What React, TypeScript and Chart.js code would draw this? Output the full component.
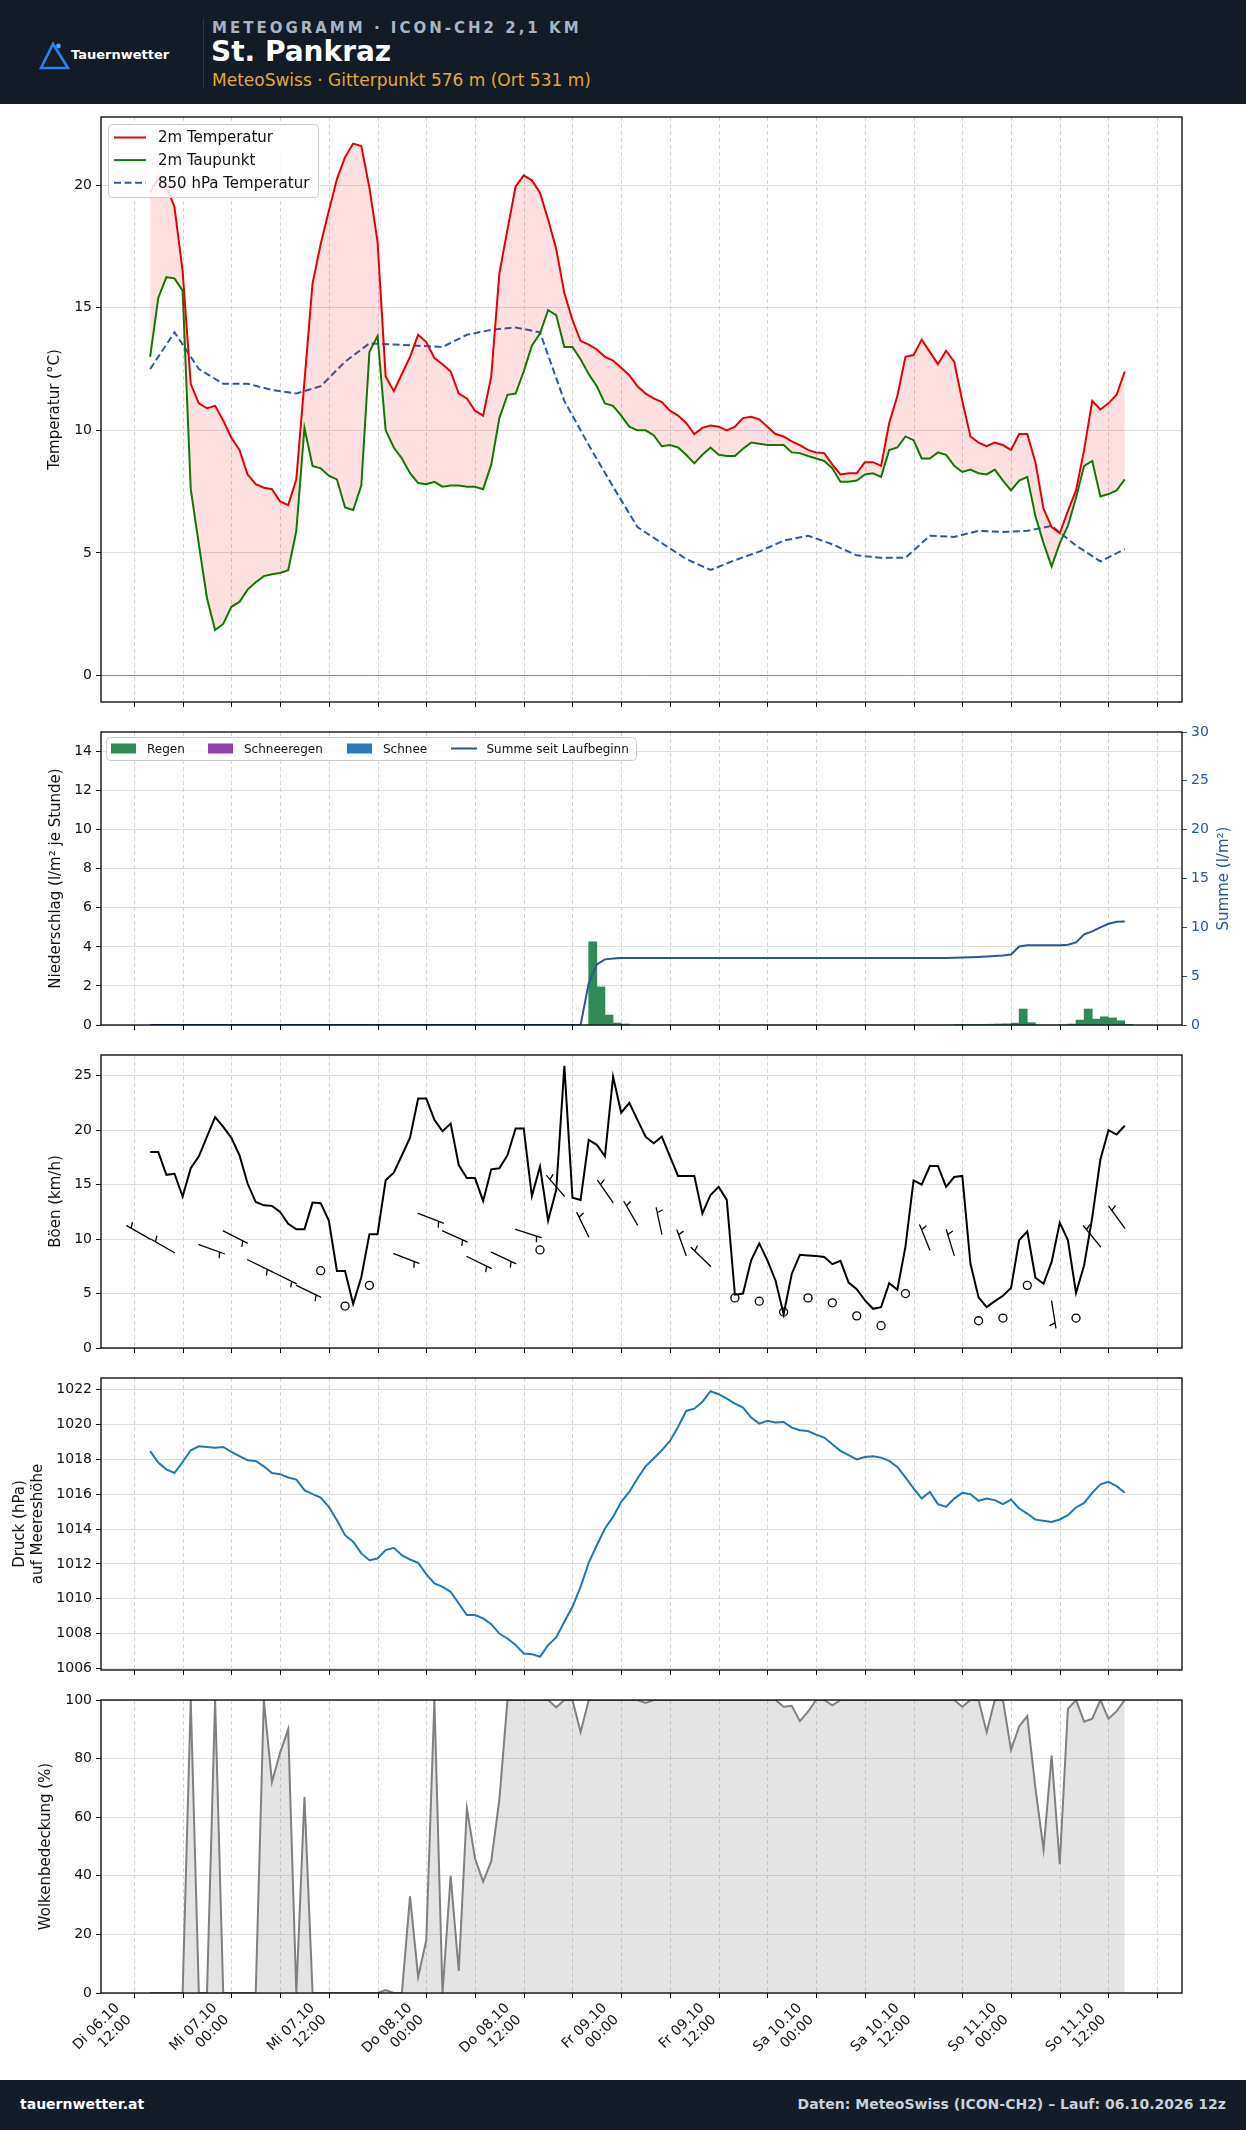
import React, { useEffect, useRef } from "react";
import { Chart, registerables } from "chart.js";

Chart.register(...registerables);

const FONT = "'DejaVu Sans', 'Noto Sans', sans-serif";
const PAGE_W = 1246;
const PAGE_H = 2130;
const AXIS_LEFT_W = 101;
const AXIS_RIGHT_W = 64;
const X_MIN = -4.05;
const X_MAX = 129.05;

// Model time steps, hours after Di 06.10. 12:00
const HOURS: number[] = Array.from({ length: 121 }, (_, i) => 2 + i);
const HOURS_3H: number[] = Array.from({ length: 41 }, (_, i) => 2 + 3 * i);
const GRID_HOURS: number[] = Array.from({ length: 22 }, (_, i) => 6 * i);
const LABEL_HOURS: number[] = [0, 12, 24, 36, 48, 60, 72, 84, 96, 108, 120];
const LABEL_TEXT: string[][] = [
  ["Di 06.10", "12:00"], ["Mi 07.10", "00:00"], ["Mi 07.10", "12:00"], ["Do 08.10", "00:00"],
  ["Do 08.10", "12:00"], ["Fr 09.10", "00:00"], ["Fr 09.10", "12:00"], ["Sa 10.10", "00:00"],
  ["Sa 10.10", "12:00"], ["So 11.10", "00:00"], ["So 11.10", "12:00"],
];

// 2 m temperature (°C)
const TEMP_2M: number[] = [
  19.7, 20.3, 20.0, 19.1, 16.5, 11.9, 11.1, 10.9, 11.0, 10.4,
  9.7, 9.2, 8.2, 7.8, 7.66, 7.6, 7.1, 6.95, 8.0, 12.0,
  16.0, 17.6, 18.95, 20.25, 21.15, 21.7, 21.6, 19.9, 17.7, 12.2,
  11.6, 12.3, 13.0, 13.9, 13.6, 12.95, 12.7, 12.4, 11.5, 11.3,
  10.8, 10.6, 12.2, 16.4, 18.2, 19.95, 20.4, 20.2, 19.7, 18.6,
  17.4, 15.6, 14.5, 13.65, 13.5, 13.3, 13.0, 12.85, 12.55, 12.25,
  11.8, 11.5, 11.3, 11.15, 10.8, 10.6, 10.3, 9.85, 10.1, 10.2,
  10.15, 10.0, 10.15, 10.5, 10.55, 10.45, 10.15, 9.85, 9.75, 9.55,
  9.4, 9.2, 9.1, 9.07, 8.6, 8.2, 8.25, 8.25, 8.7, 8.7,
  8.55, 10.3, 11.4, 13.0, 13.07, 13.7, 13.2, 12.7, 13.25, 12.8,
  11.2, 9.75, 9.5, 9.35, 9.5, 9.4, 9.2, 9.85, 9.85, 8.7,
  6.8, 6.05, 5.8, 6.7, 7.55, 9.2, 11.2, 10.85, 11.1, 11.45,
  12.4,
];

// 2 m dew point (°C)
const DEW_2M: number[] = [
  13.0, 15.4, 16.25, 16.2, 15.7, 7.6, 5.35, 3.15, 1.85, 2.1,
  2.8, 3.0, 3.5, 3.8, 4.05, 4.13, 4.18, 4.29, 5.9, 10.1,
  8.55, 8.45, 8.15, 8.0, 6.85, 6.75, 7.75, 13.2, 13.85, 10.0,
  9.3, 8.85, 8.25, 7.85, 7.8, 7.9, 7.7, 7.75, 7.75, 7.7,
  7.7, 7.6, 8.6, 10.5, 11.45, 11.5, 12.4, 13.45, 13.95, 14.9,
  14.7, 13.4, 13.4, 12.9, 12.3, 11.8, 11.1, 11.0, 10.6, 10.15,
  10.0, 10.0, 9.8, 9.35, 9.4, 9.3, 9.0, 8.65, 9.0, 9.3,
  9.0, 8.95, 8.95, 9.25, 9.5, 9.45, 9.4, 9.4, 9.4, 9.1,
  9.07, 8.95, 8.85, 8.75, 8.45, 7.9, 7.9, 7.95, 8.2, 8.25,
  8.1, 9.2, 9.3, 9.75, 9.6, 8.85, 8.85, 9.1, 9.0, 8.55,
  8.3, 8.4, 8.25, 8.2, 8.4, 7.95, 7.55, 7.95, 8.1, 6.5,
  5.4, 4.45, 5.4, 6.1, 7.25, 8.55, 8.75, 7.3, 7.4, 7.55,
  8.0,
];

// 850 hPa temperature (°C), 3-hourly
const TEMP_850: number[] = [
  12.5, 14.0, 12.5, 11.9, 11.9, 11.65, 11.5, 11.8, 12.8, 13.55,
  13.5, 13.45, 13.4, 13.9, 14.1, 14.2, 14.0, 11.2, 9.4, 7.7,
  6.05, 5.4, 4.75, 4.3, 4.7, 5.05, 5.5, 5.7, 5.35, 4.9,
  4.8, 4.8, 5.7, 5.65, 5.9, 5.85, 5.9, 6.1, 5.3, 4.65,
  5.15,
];

// Hourly precipitation (l/m²), rain
const PRECIP: number[] = [
  0, 0, 0, 0, 0, 0, 0, 0, 0, 0,
  0, 0, 0, 0, 0, 0, 0, 0, 0, 0,
  0, 0, 0, 0, 0, 0, 0, 0, 0, 0,
  0, 0, 0, 0, 0, 0, 0, 0, 0, 0,
  0, 0, 0, 0, 0, 0, 0, 0, 0, 0,
  0, 0, 0, 0, 4.26, 1.95, 0.51, 0.1, 0.05, 0,
  0, 0, 0, 0, 0, 0, 0, 0, 0, 0,
  0, 0, 0, 0, 0, 0, 0, 0, 0, 0,
  0, 0, 0, 0, 0, 0, 0, 0, 0, 0,
  0, 0, 0, 0, 0, 0, 0, 0, 0, 0.02,
  0.02, 0.03, 0.03, 0.04, 0.05, 0.06, 0.1, 0.82, 0.12, 0,
  0, 0, 0, 0.05, 0.25, 0.82, 0.3, 0.42, 0.36, 0.22,
  0.03,
];
const PRECIP_SUM: number[] = PRECIP.reduce((acc: number[], v, i) => {
  acc.push((i > 0 ? acc[i - 1] : 0) + v);
  return acc;
}, []);

// Gusts (km/h)
const GUST: number[] = [
  18.0, 18.0, 15.9, 16.0, 13.9, 16.5, 17.6, 19.4, 21.2, 20.3,
  19.3, 17.7, 15.1, 13.4, 13.1, 13.05, 12.5, 11.4, 10.9, 10.9,
  13.35, 13.3, 11.7, 7.07, 7.07, 4.05, 6.5, 10.45, 10.45, 15.4,
  16.1, 17.7, 19.3, 22.9, 22.9, 20.95, 19.9, 20.6, 16.8, 15.6,
  15.6, 13.5, 16.4, 16.5, 17.7, 20.15, 20.15, 13.95, 16.65, 11.7,
  14.5, 25.9, 13.8, 13.6, 19.1, 18.65, 17.6, 24.9, 21.6, 22.5,
  20.95, 19.4, 18.8, 19.4, 17.6, 15.8, 15.8, 15.8, 12.35, 14.05,
  14.8, 13.6, 4.9, 5.0, 8.05, 9.6, 8.05, 6.2, 3.1, 6.8,
  8.55, 8.5, 8.45, 8.35, 7.7, 8.0, 6.0, 5.4, 4.4, 3.6,
  3.75, 5.95, 5.35, 9.3, 15.4, 15.0, 16.7, 16.7, 14.8, 15.7,
  15.8, 7.75, 4.65, 3.75, 4.3, 4.8, 5.5, 9.9, 10.7, 6.45,
  5.9, 7.9, 11.5, 9.9, 5.05, 7.6, 12.0, 17.3, 20.0, 19.6,
  20.4,
];

// Mean wind (km/h) and direction (deg, null = calm), 3-hourly
const WIND_SPEED: number[] = [
  10.0, 8.75, 9.5, 10.75, 8.1, 7.0, 5.75, 7.1, 3.85, 5.75,
  8.66, 12.35, 10.75, 8.4, 8.8, 10.9, 9.0, 13.95, 10.2, 13.35,
  11.3, 10.45, 8.5, 7.5, 4.6, 4.3, 3.3, 4.6, 4.15, 2.95,
  2.05, 5.0, 9.0, 8.5, 2.5, 2.75, 5.75, 4.3, 2.75, 9.3,
  11.0,
];
const WIND_DIR: (number | null)[] = [
  300, 300, 110, 117, 116, 116, 116, null, null, null,
  111, 111, 114, 116, 115, 108, null, 319, 334, 325,
  330, 348, 340, 314, null, null, null, null, null, null,
  null, null, 338, 343, null, null, null, 171, null, 321,
  324,
];

// Mean sea level pressure (hPa)
const PRESSURE: number[] = [
  1018.47, 1017.82, 1017.43, 1017.22, 1017.85, 1018.52, 1018.75, 1018.71, 1018.66, 1018.71,
  1018.43, 1018.18, 1017.95, 1017.91, 1017.6, 1017.22, 1017.15, 1016.96, 1016.84, 1016.23,
  1016.0, 1015.81, 1015.27, 1014.51, 1013.65, 1013.27, 1012.6, 1012.21, 1012.31, 1012.79,
  1012.92, 1012.5, 1012.25, 1012.06, 1011.41, 1010.88, 1010.68, 1010.4, 1009.73, 1009.06,
  1009.06, 1008.87, 1008.54, 1008.0, 1007.72, 1007.34, 1006.86, 1006.82, 1006.67, 1007.34,
  1007.78, 1008.68, 1009.54, 1010.68, 1012.06, 1013.07, 1014.03, 1014.7, 1015.56, 1016.13,
  1016.9, 1017.6, 1018.05, 1018.52, 1019.06, 1019.86, 1020.78, 1020.91, 1021.3, 1021.91,
  1021.74, 1021.49, 1021.2, 1020.97, 1020.4, 1020.05, 1020.21, 1020.11, 1020.15, 1019.82,
  1019.67, 1019.63, 1019.42, 1019.25, 1018.87, 1018.49, 1018.24, 1018.0, 1018.14, 1018.18,
  1018.1, 1017.91, 1017.57, 1016.96, 1016.33, 1015.75, 1016.13, 1015.43, 1015.27, 1015.75,
  1016.08, 1016.0, 1015.62, 1015.75, 1015.66, 1015.43, 1015.69, 1015.18, 1014.89, 1014.55,
  1014.47, 1014.41, 1014.55, 1014.8, 1015.24, 1015.5, 1016.08, 1016.57, 1016.71, 1016.46,
  1016.08,
];

// Total cloud cover (%)
const CLOUD: number[] = [
  0, 0, 0, 0, 0, 100, 0, 0, 100, 0,
  0, 0, 0, 0, 100, 72, 82, 90, 0, 67,
  0, 0, 0, 0, 0, 0, 0, 0, 0, 1,
  0, 0, 33, 5.5, 18, 100, 0, 40, 7.5, 63,
  46, 38, 45, 66, 100, 100, 100, 100, 100, 100,
  97.5, 100, 100, 89, 100, 100, 100, 100, 100, 100,
  100, 99, 100, 100, 100, 100, 100, 100, 100, 100,
  100, 100, 100, 100, 100, 100, 100, 100, 97.7, 98,
  92.8, 96, 100, 100, 98.2, 100, 100, 100, 100, 100,
  100, 100, 100, 100, 100, 100, 100, 100, 100, 100,
  97.7, 100, 100, 89, 100, 100, 83, 91, 94.5, 70,
  49, 81, 44, 97, 100, 92.6, 93.6, 100, 93.6, 96.2,
  100,
];

const TEMP_TICKS = [0, 5, 10, 15, 20];
const PRECIP_TICKS = [0, 2, 4, 6, 8, 10, 12, 14];
const SUM_TICKS = [0, 5, 10, 15, 20, 25, 30];
const GUST_TICKS = [0, 5, 10, 15, 20, 25];
const PRESSURE_TICKS = [1006, 1008, 1010, 1012, 1014, 1016, 1018, 1020, 1022];
const CLOUD_TICKS = [0, 20, 40, 60, 80, 100];

const COL_TEMP = "#e60000";
const COL_DEW = "#008000";
const COL_850 = "#2c5aa0";
const COL_FILL = "rgba(255, 0, 0, 0.12)";
const COL_RAIN = "#2e8b57";
const COL_SLEET = "#8e44ad";
const COL_SNOW = "#2a7ab9";
const COL_SUM = "#2b5597";
const COL_PRESS = "#1f77b4";
const COL_CLOUD = "#808080";

const pts = (xs: number[], ys: number[]) => xs.map((x, i) => ({ x, y: ys[i] }));

const xAxis = () => ({
  type: "linear",
  min: X_MIN,
  max: X_MAX,
  display: false,
  offset: false,
  grid: { offset: false },
});

const yAxis = (min: number, max: number, ticks: number[], extra: any = {}) => {
  const position = extra.position || "left";
  const color = extra.color || "#111";
  return {
    type: "linear",
    position,
    min,
    max,
    afterBuildTicks: (s: any) => {
      s.ticks = ticks.map((v) => ({ value: v }));
    },
    afterFit: (s: any) => {
      s.width = position === "left" ? AXIS_LEFT_W : AXIS_RIGHT_W;
      s.paddingTop = 0;
      s.paddingBottom = 0;
      s.paddingLeft = 0;
      s.paddingRight = 0;
    },
    border: { display: false },
    grid: {
      drawOnChartArea: extra.grid !== false,
      color: extra.gridColor || "#dedede",
      lineWidth: 1,
      drawTicks: true,
      tickLength: 5,
      tickColor: color,
      tickWidth: 1,
    },
    ticks: {
      color,
      font: { family: FONT, size: 14 },
      padding: 4,
      autoSkip: false,
      maxRotation: 0,
      callback: (v: number) => String(v),
    },
  };
};

// dashed time grid, tick marks on the time axis and the plot frame
const framePlugin = {
  id: "frame",
  beforeDatasetsDraw(chart: any) {
    const { ctx, chartArea: a, scales } = chart;
    ctx.save();
    ctx.beginPath();
    ctx.rect(a.left, a.top, a.right - a.left, a.bottom - a.top);
    ctx.clip();
    ctx.strokeStyle = "#d4d4d4";
    ctx.lineWidth = 1;
    ctx.setLineDash([4, 3]);
    GRID_HOURS.forEach((h) => {
      const px = Math.round(scales.x.getPixelForValue(h)) + 0.5;
      ctx.beginPath();
      ctx.moveTo(px, a.top);
      ctx.lineTo(px, a.bottom);
      ctx.stroke();
    });
    ctx.restore();
  },
  afterDraw(chart: any) {
    const { ctx, chartArea: a, scales } = chart;
    ctx.save();
    ctx.strokeStyle = "#000";
    ctx.lineWidth = 1;
    GRID_HOURS.forEach((h) => {
      const px = Math.round(scales.x.getPixelForValue(h)) + 0.5;
      ctx.beginPath();
      ctx.moveTo(px, a.bottom);
      ctx.lineTo(px, a.bottom + 5);
      ctx.stroke();
    });
    ctx.lineWidth = 1.3;
    ctx.strokeRect(a.left, a.top, a.right - a.left, a.bottom - a.top);
    ctx.restore();
  },
};

type AxisTitle = { lines: string[]; xs: number[]; color?: string };
const axisTitles = (items: AxisTitle[]) => ({
  id: "axisTitles",
  afterDraw(chart: any) {
    const { ctx, chartArea: a } = chart;
    const cy = (a.top + a.bottom) / 2;
    ctx.save();
    ctx.font = `15px ${FONT}`;
    ctx.textAlign = "center";
    ctx.textBaseline = "middle";
    items.forEach((it) => {
      ctx.fillStyle = it.color || "#111";
      it.lines.forEach((ln, i) => {
        ctx.save();
        ctx.translate(it.xs[i], cy);
        ctx.rotate(-Math.PI / 2);
        ctx.fillText(ln, 0, 0);
        ctx.restore();
      });
    });
    ctx.restore();
  },
});

const legendBox = (ctx: any, x: number, y: number, w: number, h: number) => {
  ctx.save();
  ctx.fillStyle = "rgba(255,255,255,0.85)";
  ctx.strokeStyle = "#cccccc";
  ctx.lineWidth = 1;
  ctx.beginPath();
  if (ctx.roundRect) ctx.roundRect(x + 0.5, y + 0.5, w, h, 4);
  else ctx.rect(x + 0.5, y + 0.5, w, h);
  ctx.fill();
  ctx.stroke();
  ctx.restore();
};

const tempLegend = {
  id: "tempLegend",
  afterDatasetsDraw(chart: any) {
    const { ctx, chartArea: a } = chart;
    const x0 = a.left, y0 = a.top;
    legendBox(ctx, x0 + 7, y0 + 7, 210, 73);
    const rows = [
      { label: "2m Temperatur", color: COL_TEMP, dash: [] as number[] },
      { label: "2m Taupunkt", color: COL_DEW, dash: [] as number[] },
      { label: "850 hPa Temperatur", color: COL_850, dash: [7, 3.5] },
    ];
    ctx.save();
    ctx.font = `15px ${FONT}`;
    ctx.textBaseline = "middle";
    rows.forEach((r, i) => {
      const cy = y0 + 20.5 + i * 22.6;
      ctx.strokeStyle = r.color;
      ctx.lineWidth = 2;
      ctx.setLineDash(r.dash);
      ctx.beginPath();
      ctx.moveTo(x0 + 13, cy);
      ctx.lineTo(x0 + 45, cy);
      ctx.stroke();
      ctx.setLineDash([]);
      ctx.fillStyle = "#111";
      ctx.fillText(r.label, x0 + 57, cy + 1);
    });
    ctx.restore();
  },
};

const precipLegend = {
  id: "precipLegend",
  afterDatasetsDraw(chart: any) {
    const { ctx, chartArea: a } = chart;
    const x0 = a.left, y0 = a.top;
    legendBox(ctx, x0 + 5, y0 + 5, 530, 23);
    const cy = y0 + 16.5;
    ctx.save();
    ctx.font = `12px ${FONT}`;
    ctx.textBaseline = "middle";
    const patches = [
      { label: "Regen", color: COL_RAIN, px: 10, tx: 46 },
      { label: "Schneeregen", color: COL_SLEET, px: 107, tx: 143 },
      { label: "Schnee", color: COL_SNOW, px: 246, tx: 282 },
    ];
    patches.forEach((p) => {
      ctx.fillStyle = p.color;
      ctx.fillRect(x0 + p.px, cy - 5, 25, 10);
      ctx.fillStyle = "#111";
      ctx.fillText(p.label, x0 + p.tx, cy + 1);
    });
    ctx.strokeStyle = COL_SUM;
    ctx.lineWidth = 2;
    ctx.beginPath();
    ctx.moveTo(x0 + 350, cy);
    ctx.lineTo(x0 + 376, cy);
    ctx.stroke();
    ctx.fillStyle = "#111";
    ctx.fillText("Summe seit Laufbeginn", x0 + 385.5, cy + 1);
    ctx.restore();
  },
};

// wind barbs: pivot at the tip, half barb near the far end of the staff
const barbPlugin = {
  id: "barbs",
  afterDatasetsDraw(chart: any) {
    const { ctx, scales } = chart;
    const L = 27;
    ctx.save();
    ctx.strokeStyle = "#000";
    ctx.lineWidth = 1.3;
    ctx.lineCap = "round";
    WIND_DIR.forEach((dir, i) => {
      const px = scales.x.getPixelForValue(HOURS_3H[i]);
      const py = scales.y.getPixelForValue(WIND_SPEED[i]);
      ctx.beginPath();
      if (dir === null) {
        ctx.arc(px, py, 4, 0, Math.PI * 2);
        ctx.stroke();
        return;
      }
      const r = (dir * Math.PI) / 180;
      const dx = Math.sin(r), dy = -Math.cos(r);
      const qx = -dy, qy = dx;
      ctx.moveTo(px, py);
      ctx.lineTo(px + dx * L, py + dy * L);
      const off = L - 1.5 * 0.125 * L;
      const bx = px + dx * off, by = py + dy * off;
      ctx.moveTo(bx, by);
      ctx.lineTo(bx + qx * 0.2 * L + dx * 0.0625 * L, by + qy * 0.2 * L + dy * 0.0625 * L);
      ctx.stroke();
    });
    ctx.restore();
  },
};

const timeLabels = {
  id: "timeLabels",
  afterDraw(chart: any) {
    const { ctx, chartArea: a, scales } = chart;
    const asc = 10.5, desc = 3, lh = 16.5;
    const k = Math.SQRT1_2;
    ctx.save();
    ctx.font = `14px ${FONT}`;
    ctx.fillStyle = "#111";
    ctx.textAlign = "right";
    ctx.textBaseline = "alphabetic";
    LABEL_HOURS.forEach((h, i) => {
      const tx = scales.x.getPixelForValue(h);
      const ax = tx - k * (lh + desc);
      const ay = a.bottom + 8 + k * asc;
      ctx.save();
      ctx.translate(ax, ay);
      ctx.rotate(-Math.PI / 4);
      ctx.fillText(LABEL_TEXT[i][0], 0, 0);
      ctx.fillText(LABEL_TEXT[i][1], 0, lh);
      ctx.restore();
    });
    ctx.restore();
  },
};

const baseConfig = (o: any) => ({
  type: "line",
  data: { datasets: o.datasets },
  options: {
    responsive: false,
    maintainAspectRatio: false,
    animation: false,
    devicePixelRatio: 1,
    events: [],
    layout: { autoPadding: false, padding: { left: 0, right: o.padRight ?? AXIS_RIGHT_W, top: o.padTop, bottom: o.padBottom } },
    scales: { x: xAxis(), ...o.scales },
    plugins: { legend: { display: false }, tooltip: { enabled: false }, title: { display: false } },
  },
  plugins: [framePlugin, ...o.plugins],
});

const lineDs = (xs: number[], ys: number[], color: string, width: number, extra: any = {}) => ({
  type: "line",
  data: pts(xs, ys),
  borderColor: color,
  borderWidth: width,
  pointRadius: 0,
  tension: 0,
  fill: false,
  ...extra,
});

const tempConfig = () =>
  baseConfig({
    padTop: 13,
    padBottom: 15,
    scales: {
      y: yAxis(-1.085, 22.785, TEMP_TICKS, {
        gridColor: (c: any) => (c.tick && c.tick.value === 0 ? "#8c8c8c" : "#dedede"),
      }),
    },
    datasets: [
      lineDs(HOURS, TEMP_2M, COL_TEMP, 2, { fill: { target: 1, above: COL_FILL, below: COL_FILL } }),
      lineDs(HOURS, DEW_2M, COL_DEW, 2),
      lineDs(HOURS_3H, TEMP_850, COL_850, 2, { borderDash: [7, 3.5] }),
    ],
    plugins: [axisTitles([{ lines: ["Temperatur (°C)"], xs: [55] }]), tempLegend],
  });

const precipConfig = () =>
  baseConfig({
    padTop: 15,
    padBottom: 15,
    padRight: 0,
    scales: {
      y: yAxis(0, 15, PRECIP_TICKS),
      y2: yAxis(0, 30, SUM_TICKS, { position: "right", color: COL_SUM, grid: false }),
    },
    datasets: [
      lineDs(HOURS, PRECIP_SUM, COL_SUM, 2, { yAxisID: "y2" }),
      {
        type: "bar",
        data: HOURS.map((h, i) => ({ x: h + 0.5, y: PRECIP[i] })),
        backgroundColor: COL_RAIN,
        borderWidth: 0,
        barPercentage: 1,
        categoryPercentage: 1,
        yAxisID: "y",
      },
    ],
    plugins: [
      axisTitles([
        { lines: ["Niederschlag (l/m² je Stunde)"], xs: [56] },
        { lines: ["Summe (l/m²)"], xs: [1224], color: COL_SUM },
      ]),
      precipLegend,
    ],
  });

const gustConfig = () =>
  baseConfig({
    padTop: 15,
    padBottom: 15,
    scales: { y: yAxis(0, 26.9, GUST_TICKS) },
    datasets: [lineDs(HOURS, GUST, "#000", 2)],
    plugins: [axisTitles([{ lines: ["Böen (km/h)"], xs: [56] }]), barbPlugin],
  });

const pressureConfig = () =>
  baseConfig({
    padTop: 15,
    padBottom: 15,
    scales: { y: yAxis(1005.91, 1022.67, PRESSURE_TICKS) },
    datasets: [lineDs(HOURS, PRESSURE, COL_PRESS, 2)],
    plugins: [axisTitles([{ lines: ["Druck (hPa)", "auf Meereshöhe"], xs: [20, 38] }])],
  });

const cloudConfig = () =>
  baseConfig({
    padTop: 15,
    padBottom: 87,
    scales: { y: yAxis(0, 100, CLOUD_TICKS) },
    datasets: [
      lineDs(HOURS, CLOUD, COL_CLOUD, 2, { fill: "origin", backgroundColor: "rgba(128,128,128,0.21)" }),
    ],
    plugins: [axisTitles([{ lines: ["Wolkenbedeckung (%)"], xs: [46] }]), timeLabels],
  });

function ChartPanel({ top, height, make }: { top: number; height: number; make: () => any }) {
  const ref = useRef<HTMLCanvasElement>(null);
  useEffect(() => {
    if (!ref.current) return;
    const chart = new Chart(ref.current, make());
    return () => chart.destroy();
  }, [make]);
  return (
    <canvas
      ref={ref}
      width={PAGE_W}
      height={height}
      style={{ position: "absolute", left: 0, top, width: PAGE_W, height, display: "block" }}
    />
  );
}

function Logo() {
  return (
    <svg width={40} height={36} style={{ position: "absolute", left: 34, top: 38 }} viewBox="0 0 40 36">
      <polygon points="19,6 7,30 34,30" fill="none" stroke="#2f80ed" strokeWidth={2.6} strokeLinejoin="miter" />
      <circle cx={24.5} cy={8} r={2.4} fill="#4aa3ff" />
    </svg>
  );
}

export default function App() {
  const abs = (o: any) => ({ position: "absolute" as const, whiteSpace: "nowrap" as const, ...o });
  return (
    <div style={{ position: "absolute", left: 0, top: 0, width: PAGE_W, height: PAGE_H, background: "#ffffff", overflow: "hidden", fontFamily: FONT }}>
      <div style={abs({ left: 0, top: 0, width: PAGE_W, height: 104, background: "#131b27" })}>
        <Logo />
        <div style={abs({ left: 71, top: 48, color: "#ffffff", font: `bold 13px ${FONT}`, lineHeight: "13px" })}>Tauernwetter</div>
        <div style={abs({ left: 203, top: 19, width: 1, height: 68, background: "#2c3748" })} />
        <div style={abs({ left: 212, top: 21, color: "#a9b4c3", font: `bold 15px ${FONT}`, lineHeight: "15px", letterSpacing: "3px" })}>
          METEOGRAMM · ICON-CH2 2,1 KM
        </div>
        <div style={abs({ left: 211, top: 38, color: "#ffffff", font: `bold 28px ${FONT}`, lineHeight: "28px" })}>St. Pankraz</div>
        <div style={abs({ left: 212, top: 72, color: "#e3a83e", font: `17px ${FONT}`, lineHeight: "17px" })}>
          MeteoSwiss · Gitterpunkt 576 m (Ort 531 m)
        </div>
      </div>

      <ChartPanel top={104} height={613} make={tempConfig} />
      <ChartPanel top={717} height={323} make={precipConfig} />
      <ChartPanel top={1040} height={323} make={gustConfig} />
      <ChartPanel top={1363} height={322} make={pressureConfig} />
      <ChartPanel top={1685} height={395} make={cloudConfig} />

      <div style={abs({ left: 0, top: 2080, width: PAGE_W, height: 50, background: "#141c28" })}>
        <div style={abs({ left: 20, top: 17, color: "#ffffff", font: `bold 14px ${FONT}`, lineHeight: "14px" })}>tauernwetter.at</div>
        <div style={abs({ right: 20, top: 17, color: "#c8d0da", font: `bold 14px ${FONT}`, lineHeight: "14px" })}>
          Daten: MeteoSwiss (ICON-CH2) – Lauf: 06.10.2026 12z
        </div>
      </div>
    </div>
  );
}
